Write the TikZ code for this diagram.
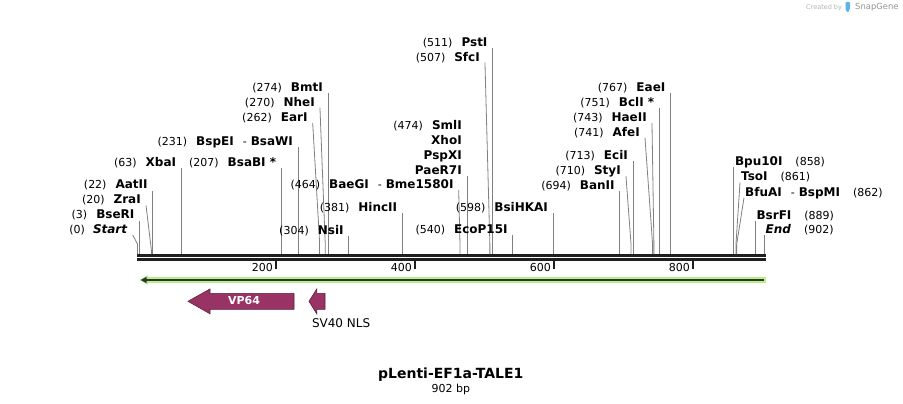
\documentclass[tikz,border=0pt]{standalone}
\usepackage{fontspec}
\setmainfont{DejaVu Sans}
\usetikzlibrary{calc}
\usetikzlibrary{positioning}
\definecolor{featcol}{RGB}{153,51,102}
\definecolor{lgreen}{RGB}{184,240,136}
\definecolor{snapblue}{RGB}{90,180,235}
\pgfkeys{tikz/mycutlabel/.style={inner sep=0pt,font=\fontsize{12}{14}\selectfont\bfseries}}
\pgfkeys{tikz/myleader/.style={draw=black!50,line width=0.8pt}}
\pgfkeys{tikz/mystrand/.style={draw=black!88}}
\pgfkeys{tikz/myfeature/.style={fill=featcol,draw=featcol!60!black,line width=0.6pt}}
\newcommand*\mynum[1]{{\fontsize{11}{13}\selectfont\mdseries #1}}
\newcommand*\mybp[1]{137.5+0.695*#1}
% label left of its cut site
\newcommand*\mycutleft[6][0]{
    \coordinate (#2-s) at ({\mybp{#3}},254);
    \coordinate (#2-t) at ({\mybp{#3}+(#4)},#5);
    \node[mycutlabel,anchor=base east,xshift=-5pt,yshift=1.6pt] (#2) at (#2-t) {#6};
    \draw[myleader] (#2-s) -- ++(0,-#1) -- (#2-t);
}
% label right of its cut site
\newcommand*\mycutright[6][0]{
    \coordinate (#2-s) at ({\mybp{#3}},254);
    \coordinate (#2-t) at ({\mybp{#3}+(#4)},#5);
    \node[mycutlabel,anchor=base west,xshift=1pt,yshift=1.6pt] (#2) at (#2-t) {#6};
    \draw[myleader] (#2-s) -- ++(0,-#1) -- (#2-t);
}

\begin{document}
\begin{tikzpicture}[x=1pt,y=-1pt]
    \useasboundingbox (0,0) rectangle (903,404);
    \fill[white] (0,0) rectangle (903,404);
    % ruler
    \coordinate (rul-l) at (137.2,255.5);
    \coordinate (rul-r) at (765.8,255.5);
    \draw[mystrand,line width=2.4pt] (rul-l) -- (rul-r);
    \draw[mystrand,line width=3pt] ([yshift=-3.7pt]rul-l) -- ([yshift=-3.7pt]rul-r);
    \foreach \t in {200,400,600,800} {
        \draw[mystrand,line width=2pt] ({\mybp{\t}-0.5},260) -- ({\mybp{\t}-0.5},269);
        \node[inner sep=0pt,anchor=base east] (tick\t) at ({\mybp{\t}-3.5},271) {\mynum{\t}};
    }
    % cut sites
    \mycutleft[10]{startsite}{0}{-4.8}{235}{\mynum{(0)}\hspace{8pt}\textit{Start}}
    \mycutleft{bseri}{3}{0}{220.5}{\mynum{(3)}\hspace{9pt}BseRI}
    \mycutleft[4]{zrai}{20}{-5.4}{205.5}{\mynum{(20)}\hspace{9pt}ZraI}
    \mycutleft{aatii}{22}{0}{190.5}{\mynum{(22)}\hspace{9pt}AatII}
    \mycutleft{xbai}{63}{0}{168.3}{\mynum{(63)}\hspace{9pt}XbaI}
    \mycutleft{bsabi}{207}{0}{168.3}{\mynum{(207)}\hspace{9pt}BsaBI *}
    \mycutleft{bspei}{231}{0}{146.7}{\mynum{(231)}\hspace{9pt}BspEI\hspace{9pt}\mynum{-}\hspace{4pt}BsaWI}
    \mycutleft[12]{eari}{262}{-6.9}{123}{\mynum{(262)}\hspace{9pt}EarI}
    \mycutleft[12]{nhei}{270}{-5.2}{107.7}{\mynum{(270)}\hspace{9pt}NheI}
    \mycutleft{bmti}{274}{0}{93.3}{\mynum{(274)}\hspace{9pt}BmtI}
    \mycutleft{nsii}{304}{0}{235.7}{\mynum{(304)}\hspace{9pt}NsiI}
    \mycutleft{hincii}{381}{0}{213.3}{\mynum{(381)}\hspace{9pt}HincII}
    \mycutleft[10]{baegi}{464}{-1.3}{190}{\mynum{(464)}\hspace{9pt}BaeGI\hspace{9pt}\mynum{-}\hspace{4pt}Bme1580I}
    \mycutleft{paer7i}{474}{0}{176}{PaeR7I}
    \node[mycutlabel,anchor=base east] (pspxi) at ([yshift=15pt]paer7i.base east) {PspXI};
    \node[mycutlabel,anchor=base east] (xhoi) at ([yshift=15pt]pspxi.base east) {XhoI};
    \node[mycutlabel,anchor=base east] (smli) at ([yshift=15pt]xhoi.base east) {\mynum{(474)}\hspace{9pt}SmlI};
    \mycutleft[10]{sfci}{507}{-4.9}{62.7}{\mynum{(507)}\hspace{9pt}SfcI}
    \mycutleft{psti}{511}{0}{48.3}{\mynum{(511)}\hspace{9pt}PstI}
    \mycutleft{ecop15i}{540}{0}{235}{\mynum{(540)}\hspace{9pt}EcoP15I}
    \mycutleft{bsihkai}{598}{0}{213.3}{\mynum{(598)}\hspace{9pt}BsiHKAI}
    \mycutleft{banii}{694}{0}{191}{\mynum{(694)}\hspace{9pt}BanII}
    \mycutleft[11]{styi}{710}{-5}{176}{\mynum{(710)}\hspace{9pt}StyI}
    \mycutleft{ecii}{713}{0}{161}{\mynum{(713)}\hspace{9pt}EciI}
    \mycutleft[11]{afei}{741}{-7.5}{137.7}{\mynum{(741)}\hspace{9pt}AfeI}
    \mycutleft[11]{haeii}{743}{-1.9}{123}{\mynum{(743)}\hspace{9pt}HaeII}
    \mycutleft{bcli}{751}{0}{108}{\mynum{(751)}\hspace{9pt}BclI *}
    \mycutleft{eaei}{767}{0}{93.3}{\mynum{(767)}\hspace{9pt}EaeI}
    \mycutright{bpu10i}{858}{0}{167}{Bpu10I\hspace{13pt}\mynum{(858)}}
    \mycutright[9]{tsoi}{861}{4.1}{182.5}{TsoI\hspace{13pt}\mynum{(861)}}
    \mycutright[9]{bfuai}{862}{7.4}{197.7}{BfuAI\hspace{9pt}\mynum{-}\hspace{4pt}BspMI\hspace{13pt}\mynum{(862)}}
    \mycutright{bsrfi}{889}{0}{221}{BsrFI\hspace{13pt}\mynum{(889)}}
    \mycutright{endsite}{902}{0}{235}{\textit{End}\hspace{13pt}\mynum{(902)}}
    % green strand arrow
    \fill[lgreen] (146,276.7) rectangle (766,283.3);
    \fill[lgreen] (139.2,280) -- (148,275.2) -- (148,284.8) -- cycle;
    \draw[black!80,line width=2.6pt] (144,280) -- (763.5,280);
    \fill[black!80] (140.8,280) -- (146.5,276.8) -- (146.5,283.2) -- cycle;
    % features
    \draw[myfeature] (188,301.3) -- (210,289) -- (210,293.3) -- (294,293.3) -- (294,309.3) -- (210,309.3) -- (210,313.8) -- cycle;
    \node[inner sep=0pt,text=white,font=\fontsize{11}{13}\selectfont\bfseries] (vp64) at (244,300.7) {VP64};
    \draw[myfeature] (309,301.3) -- (316.7,289) -- (316.7,293.3) -- (325,293.3) -- (325,309.3) -- (316.7,309.3) -- (316.7,313.8) -- cycle;
    \node[inner sep=0pt,anchor=base west,font=\fontsize{12}{14}\selectfont] (sv40) at (311.8,327) {SV40 NLS};
    % title
    \node[inner sep=0pt,anchor=base,font=\fontsize{14}{16}\selectfont\bfseries] (title) at (450.8,378.4) {pLenti-EF1a-TALE1};
    \node[inner sep=0pt,anchor=base,font=\fontsize{11}{13}\selectfont] (size) at (450.8,392.3) {902 bp};
    % logo
    \node[inner sep=0pt,anchor=west,text=black!30,font=\fontsize{6.5}{7}\selectfont] (created) at (806,7.7) {Created by};
    \fill[snapblue,rounded corners=0.8pt] (845.7,2) -- (850,2) -- (850,8.5) -- (848,12.5) -- (845.7,10) -- cycle;
    \node[inner sep=0pt,anchor=west,text=black!42,font=\fontsize{8.4}{9}\selectfont] (snapgene) at (855,7.7) {SnapGene};
\end{tikzpicture}
\end{document}
